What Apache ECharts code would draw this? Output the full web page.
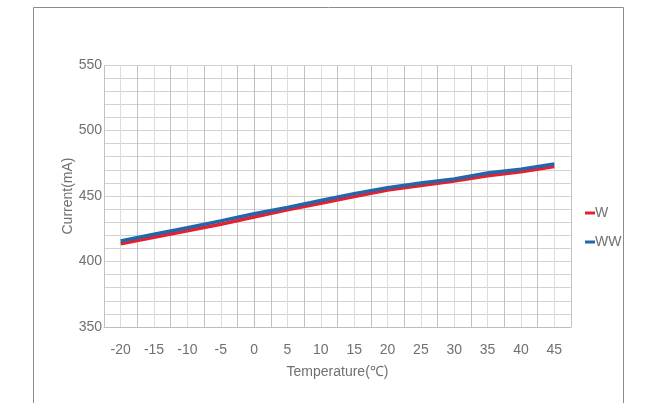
<!DOCTYPE html>
<html>
<head>
<meta charset="utf-8">
<script src="https://cdn.jsdelivr.net/npm/echarts@6/dist/echarts.min.js"></script>
<style>
  html, body { margin: 0; padding: 0; background: #fff; }
  #chart { width: 645px; height: 403px; }
</style>
</head>
<body>
<div id="chart"></div>
<script>
// temperatures (°C) on the x axis
const temps = [-20, -15, -10, -5, 0, 5, 10, 15, 20, 25, 30, 35, 40, 45]
// current (mA)
const wValues = [413.5, 418.5, 423.5, 428.5, 434, 439.5, 444.5, 449.5, 454.5, 458, 461.5, 465.5, 468.5, 472.5]
const wwValues = [415.6, 420.8, 425.8, 431, 436.5, 441.2, 446.6, 451.8, 456.3, 460, 463, 467.5, 470.5, 474.5]
const seriesNames = ['W', 'WW']
const yLabelStep = 50
const xLabelStep = 5

const font = "'Liberation Sans', Arial, sans-serif"
const textColor = '#707070'

const toPairs = (vals) => temps.map((t, i) => [t, vals[i]])

const chart = echarts.init(document.getElementById('chart'))
chart.setOption({
  animation: false,
  graphic: [
    {
      type: 'rect',
      shape: { x: 33.5, y: 7.5, width: 590, height: 420 },
      style: { fill: 'none', stroke: '#8c8c8c', lineWidth: 1 },
    },
  ],
  grid: {
    left: 104,
    top: 65,
    right: 74,
    bottom: 76,
  },
  legend: {
    orient: 'vertical',
    left: 580,
    top: 201,
    itemGap: 15,
    itemWidth: 10,
    itemHeight: 3,
    icon: 'rect',
    data: seriesNames,
    textStyle: {
      fontFamily: font,
      fontSize: 14,
      color: textColor,
      padding: [0, 0, 0, -5],
    },
  },
  xAxis: {
    type: 'value',
    min: -22.5,
    max: 47.5,
    interval: 2.5,
    name: 'Temperature(℃)',
    nameLocation: 'middle',
    nameGap: 38,
    nameMoveOverlap: false,
    nameTextStyle: { fontFamily: font, fontSize: 14, color: textColor },
    axisLine: { show: true, lineStyle: { color: '#bdbdbd', width: 1 } },
    axisTick: { show: false },
    axisLabel: {
      margin: 16,
      fontFamily: font,
      fontSize: 14,
      color: textColor,
      formatter: (v) => (v % xLabelStep === 0 ? String(v) : ''),
    },
    splitLine: {
      show: true,
      lineStyle: { color: ['#c2c2c2', '#dcdcdc'], width: 1 },
    },
  },
  yAxis: {
    type: 'value',
    min: 350,
    max: 550,
    interval: 10,
    name: 'Current(mA)',
    nameLocation: 'middle',
    nameGap: 29,
    nameMoveOverlap: false,
    nameTextStyle: { fontFamily: font, fontSize: 14, color: textColor },
    axisLine: { show: true, lineStyle: { color: '#bdbdbd', width: 1 } },
    axisTick: { show: false },
    axisLabel: {
      margin: 2,
      fontFamily: font,
      fontSize: 14,
      color: textColor,
      formatter: (v) => (v % yLabelStep === 0 ? String(v) : ''),
    },
    splitLine: {
      show: true,
      lineStyle: { color: '#d2d2d2', width: 1 },
    },
  },
  series: [
    {
      name: seriesNames[0],
      type: 'line',
      symbol: 'none',
      color: '#e5202f',
      lineStyle: { width: 3.5, color: '#e5202f' },
      data: toPairs(wValues),
    },
    {
      name: seriesNames[1],
      type: 'line',
      symbol: 'none',
      color: '#2366aa',
      lineStyle: { width: 3.5, color: '#2366aa' },
      data: toPairs(wwValues),
    },
  ],
})
</script>
</body>
</html>
